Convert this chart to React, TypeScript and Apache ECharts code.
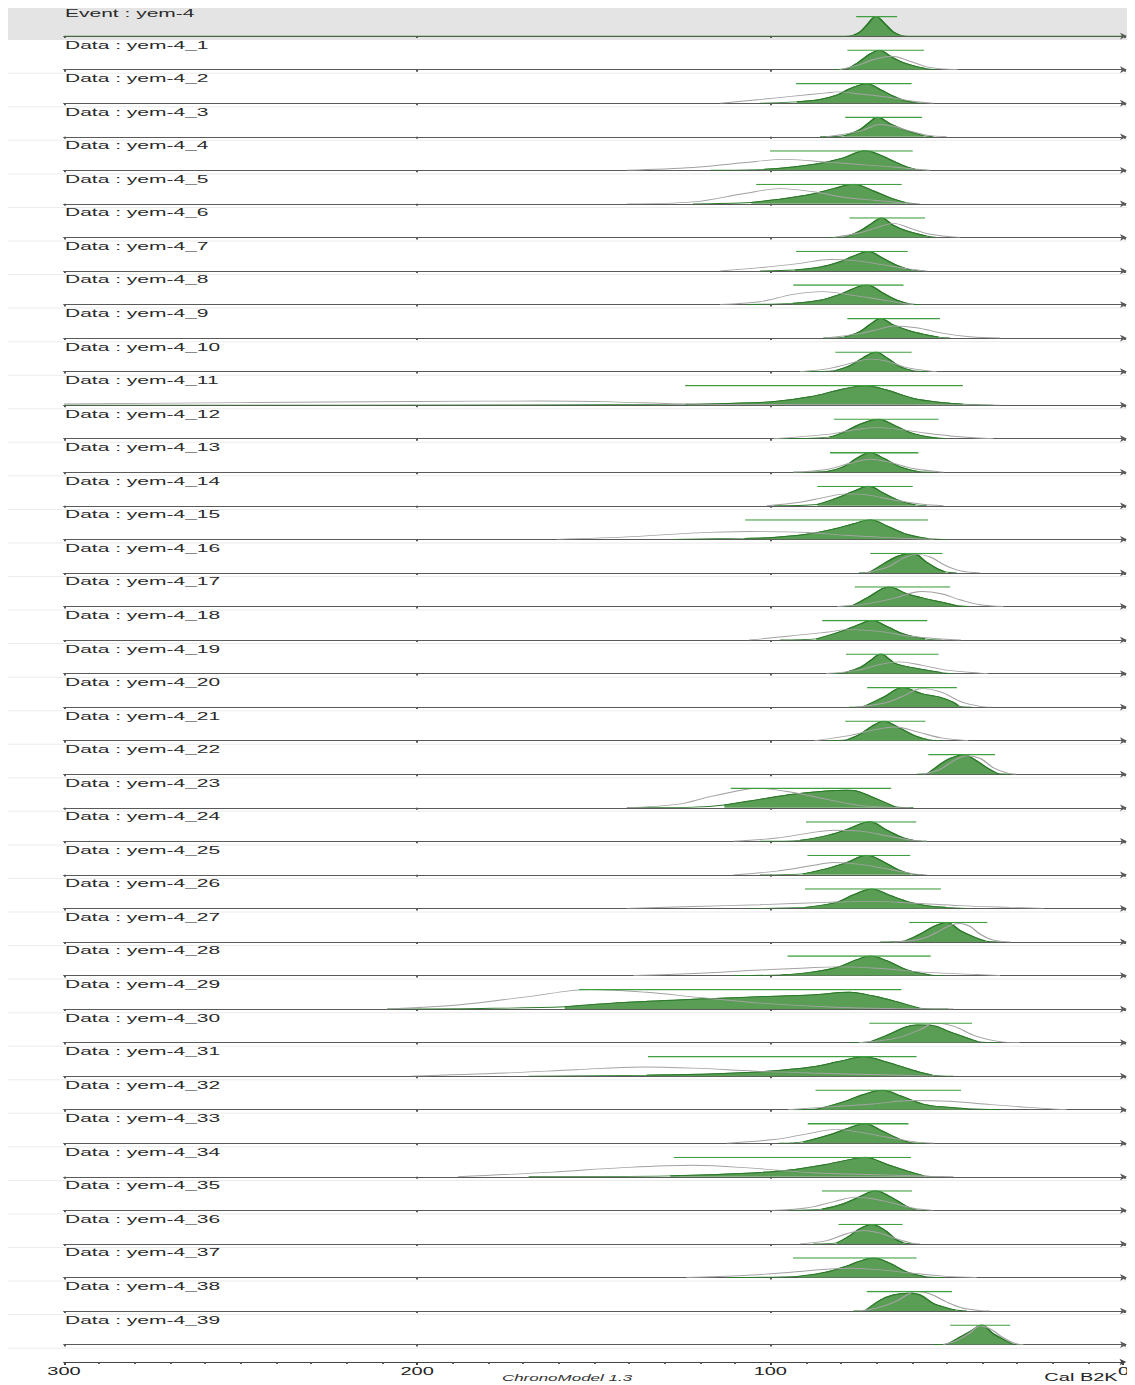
import React, { useEffect, useRef } from "react";
import * as echarts from "echarts";

// Calendar scale (years B2K), drawn from old (left) to young (right)
const yearOldest = 300;
const yearYoungest = 0;
const yearStep = 100;

const rowNames: string[] = [
  "Event : yem-4",
  "Data : yem-4_1", "Data : yem-4_2", "Data : yem-4_3", "Data : yem-4_4", "Data : yem-4_5",
  "Data : yem-4_6", "Data : yem-4_7", "Data : yem-4_8", "Data : yem-4_9", "Data : yem-4_10",
  "Data : yem-4_11", "Data : yem-4_12", "Data : yem-4_13", "Data : yem-4_14", "Data : yem-4_15",
  "Data : yem-4_16", "Data : yem-4_17", "Data : yem-4_18", "Data : yem-4_19", "Data : yem-4_20",
  "Data : yem-4_21", "Data : yem-4_22", "Data : yem-4_23", "Data : yem-4_24", "Data : yem-4_25",
  "Data : yem-4_26", "Data : yem-4_27", "Data : yem-4_28", "Data : yem-4_29", "Data : yem-4_30",
  "Data : yem-4_31", "Data : yem-4_32", "Data : yem-4_33", "Data : yem-4_34", "Data : yem-4_35",
  "Data : yem-4_36", "Data : yem-4_37", "Data : yem-4_38", "Data : yem-4_39",
];

// Posterior densities [year, relative density]
const posteriorCurves: number[][][] = [
  [[300, 0], [79, 0], [76.5, 0.05], [74.7, 0.21], [72.8, 0.56], [70.2, 1], [67.6, 0.61], [65.3, 0.21], [63.4, 0.05], [61, 0], [0, 0]],
  [[82, 0], [78, 0.06], [74.7, 0.43], [71.8, 0.81], [69.2, 1], [66.2, 0.69], [63.4, 0.43], [60, 0.22], [56, 0.05], [53, 0]],
  [[103, 0], [92.6, 0.07], [86, 0.19], [81.3, 0.41], [77.5, 0.75], [72.8, 1], [69, 0.7], [65.3, 0.36], [62.4, 0.15], [59.3, 0.04], [56.8, 0]],
  [[86, 0], [79.2, 0.05], [74.7, 0.37], [71.9, 0.76], [69.8, 1], [66.2, 0.66], [62.4, 0.37], [59.6, 0.2], [56.8, 0.05], [53.9, 0]],
  [[117, 0], [101.9, 0.05], [93.6, 0.17], [85.1, 0.39], [79.4, 0.64], [73.3, 1], [69, 0.78], [65.3, 0.47], [61.5, 0.17], [59.1, 0.05], [55.8, 0]],
  [[122, 0], [105.5, 0.07], [98.3, 0.22], [88.8, 0.48], [82.2, 0.78], [76.6, 1], [70.9, 0.66], [66.2, 0.31], [62, 0.07], [58.7, 0]],
  [[84, 0], [78.3, 0.05], [74.7, 0.33], [71.4, 0.71], [68.6, 1], [65.3, 0.62], [61.5, 0.33], [56, 0.07], [53, 0]],
  [[103, 0], [93.1, 0.05], [86, 0.2], [80.4, 0.47], [76.6, 0.76], [72.3, 1], [68.6, 0.68], [64.3, 0.29], [60.1, 0.04], [56.8, 0]],
  [[106.8, 0], [93.8, 0.06], [86, 0.22], [80.4, 0.52], [72.8, 1], [68.1, 0.57], [64.3, 0.22], [61, 0.04], [57.7, 0]],
  [[85.1, 0], [79.2, 0.05], [74.7, 0.33], [71.4, 0.76], [68.9, 1], [65.3, 0.67], [60.5, 0.36], [55.8, 0.16], [52.5, 0.05], [49.2, 0]],
  [[91.7, 0], [81.8, 0.05], [77.5, 0.31], [73.8, 0.71], [70.2, 1], [67.2, 0.71], [63.4, 0.25], [60.1, 0.06], [55.8, 0]],
  [[300, 0], [170, 0.01], [124.2, 0.04], [112.4, 0.09], [99.6, 0.17], [88.8, 0.43], [79.4, 0.83], [73.3, 1], [67.2, 0.78], [59.6, 0.34], [51.1, 0.12], [45.6, 0.05], [37, 0]],
  [[99.2, 0], [83.4, 0.08], [79.4, 0.33], [74.7, 0.74], [69.5, 1], [65.3, 0.71], [60.5, 0.31], [55.8, 0.1], [52.8, 0.04], [50.2, 0]],
  [[93.6, 0], [84, 0.04], [79.4, 0.28], [75.6, 0.72], [71.9, 1], [68.1, 0.72], [63.4, 0.28], [58.7, 0.05], [53.9, 0]],
  [[99.2, 0], [86.8, 0.07], [81.3, 0.39], [76.6, 0.74], [72.3, 1], [68.1, 0.65], [63.4, 0.25], [59.1, 0.05], [55.8, 0]],
  [[127.9, 0], [107.4, 0.05], [99.6, 0.09], [89.8, 0.26], [82.1, 0.53], [76.7, 0.79], [71.8, 1], [66.9, 0.67], [61.5, 0.26], [55.5, 0.04], [49.5, 0]],
  [[75.1, 0], [71.8, 0.05], [68, 0.47], [63.6, 0.88], [59.8, 1], [56, 0.56], [52.8, 0.21], [50.6, 0.05], [47.3, 0]],
  [[80, 0], [76.7, 0.05], [72.4, 0.47], [66.4, 1], [61.5, 0.65], [56, 0.39], [50.6, 0.18], [47.6, 0.05], [44.1, 0]],
  [[97.4, 0], [87.1, 0.06], [80, 0.44], [75.6, 0.75], [71.3, 1], [66.9, 0.67], [62.6, 0.32], [56.3, 0.06], [51.7, 0]],
  [[82.1, 0], [78.9, 0.05], [74.5, 0.33], [71.5, 0.7], [68.8, 1], [66.3, 0.72], [64.7, 0.51], [59.3, 0.28], [51.7, 0.05], [48.4, 0]],
  [[77.8, 0], [73.4, 0.05], [68, 0.51], [62.6, 1], [57.1, 0.68], [52.2, 0.51], [48.4, 0.25], [46.8, 0.05], [43, 0]],
  [[84.3, 0], [78.3, 0.05], [74.5, 0.35], [71.3, 0.74], [68, 1], [63.6, 0.65], [59.3, 0.26], [55.5, 0.05], [51.7, 0]],
  [[58.7, 0], [55.4, 0.05], [52, 0.51], [49.2, 0.81], [45.4, 1], [41.7, 0.68], [38.8, 0.33], [36, 0.05], [32.2, 0]],
  [[140.7, 0], [121.9, 0.03], [113.1, 0.14], [103, 0.43], [93.6, 0.69], [84.1, 0.86], [78.5, 0.9], [76.6, 0.89], [70.9, 0.52], [64.8, 0.05], [59.6, 0]],
  [[103, 0], [91.7, 0.05], [84.1, 0.29], [78.5, 0.6], [71.9, 1], [67.2, 0.57], [62.4, 0.17], [59.6, 0.05], [55.8, 0]],
  [[103, 0], [90.9, 0.05], [84.1, 0.32], [78.5, 0.63], [72.8, 1], [68.1, 0.67], [63.8, 0.25], [60.5, 0.05], [56.8, 0]],
  [[106.8, 0], [90.3, 0.05], [81.3, 0.31], [76.6, 0.69], [71.4, 1], [66.2, 0.66], [60.5, 0.31], [55.8, 0.14], [50.2, 0.05], [44.5, 0]],
  [[69, 0], [62, 0.05], [57.7, 0.4], [53.9, 0.79], [50.2, 1], [46.4, 0.58], [42.6, 0.26], [39.3, 0.05], [35.1, 0]],
  [[110.5, 0], [96.9, 0.03], [88.8, 0.16], [81.3, 0.41], [75.6, 0.81], [71.9, 1], [67.2, 0.76], [61.5, 0.29], [54.9, 0.03], [51.1, 0]],
  [[208.5, 0], [181.8, 0.03], [158.3, 0.12], [141.8, 0.33], [121.8, 0.5], [101.7, 0.64], [88.4, 0.72], [77.7, 0.86], [71, 0.67], [64.4, 0.38], [57.9, 0.05], [49.7, 0]],
  [[77.7, 0], [71.7, 0.05], [65.7, 0.49], [61.7, 0.81], [58.4, 0.9], [54.4, 0.88], [49.7, 0.58], [44.3, 0.23], [41.3, 0.05], [35, 0]],
  [[168.5, 0], [135.1, 0.05], [115.1, 0.12], [101.7, 0.24], [88.4, 0.47], [80.4, 0.76], [73.7, 1], [67, 0.71], [60.3, 0.33], [54.3, 0.05], [48.3, 0]],
  [[93.7, 0], [86.4, 0.05], [79, 0.43], [73.7, 0.78], [68.4, 1], [63, 0.69], [56.3, 0.26], [49.7, 0.12], [44.3, 0.05], [35, 0]],
  [[97.7, 0], [90.8, 0.07], [83, 0.45], [77.7, 0.79], [73.4, 1], [68.4, 0.62], [64.4, 0.28], [61, 0.05], [56.4, 0]],
  [[168.5, 0], [128.4, 0.05], [108.4, 0.17], [95.1, 0.34], [84.4, 0.63], [77.7, 0.88], [73.4, 1], [67, 0.63], [60.3, 0.24], [56.6, 0.05], [51, 0]],
  [[95, 0], [85.5, 0.06], [80, 0.3], [75, 0.68], [70.4, 1], [66, 0.68], [62, 0.25], [59.5, 0.05], [55, 0]],
  [[87.9, 0], [81.3, 0.05], [77.5, 0.43], [74.7, 0.78], [71.4, 1], [67.6, 0.69], [64.8, 0.26], [62.4, 0.05], [59.6, 0]],
  [[112.4, 0], [92.4, 0.05], [84.1, 0.28], [78.5, 0.58], [74.7, 0.84], [70.9, 1], [66.2, 0.72], [61.5, 0.28], [56.6, 0.05], [51.1, 0]],
  [[76.6, 0], [73, 0.05], [69, 0.55], [65.3, 0.82], [61, 0.91], [57.7, 0.82], [53.9, 0.38], [50.2, 0.16], [47.8, 0.05], [44.5, 0]],
  [[53.9, 0], [49.7, 0.05], [46.4, 0.38], [43.1, 0.72], [40.3, 1], [37, 0.55], [34.1, 0.26], [31.8, 0.05], [28.5, 0]],
];

// Calibrated date densities [year, relative density] (none for the event)
const likelihoodCurves: number[][][] = [
  [],
  [[80.5, 0], [74.7, 0.26], [70.9, 0.52], [65.7, 0.69], [60.5, 0.43], [55.8, 0.14], [51, 0.03], [47, 0]],
  [[114.3, 0], [103, 0.19], [93.6, 0.36], [84.1, 0.53], [81.3, 0.58], [74.7, 0.47], [65.3, 0.27], [59.6, 0.1], [53.9, 0]],
  [[84.1, 0], [74.7, 0.29], [69, 0.63], [65.3, 0.54], [60.5, 0.29], [55.8, 0.08], [50.2, 0]],
  [[140.7, 0], [121.9, 0.14], [107.7, 0.39], [95.5, 0.56], [84.1, 0.42], [74.7, 0.3], [65.3, 0.17], [59.6, 0.07], [54.9, 0]],
  [[140.7, 0], [121.9, 0.1], [107.7, 0.52], [97.3, 0.78], [87.9, 0.62], [79.4, 0.34], [70, 0.17], [62.4, 0.05], [57.7, 0]],
  [[82.2, 0], [74.7, 0.24], [70, 0.5], [65.3, 0.72], [59.6, 0.41], [54.9, 0.16], [46.4, 0]],
  [[114.3, 0], [103, 0.17], [91.7, 0.39], [83.2, 0.59], [76.6, 0.54], [69, 0.34], [61.5, 0.12], [55.8, 0]],
  [[114.3, 0], [103, 0.14], [93.6, 0.52], [85.1, 0.66], [78.5, 0.52], [70, 0.28], [62.4, 0.05], [59.6, 0]],
  [[84.1, 0], [74.7, 0.24], [69, 0.47], [65.3, 0.62], [58.7, 0.53], [51.1, 0.24], [43.6, 0.07], [35.1, 0]],
  [[91.7, 0], [84.1, 0.14], [77.5, 0.42], [71.9, 0.64], [67.2, 0.54], [61.5, 0.2], [55.8, 0.05], [53, 0]],
  [[300, 0.06], [250, 0.13], [200, 0.19], [165, 0.21], [145, 0.17], [128, 0.07], [110, 0.03], [90, 0.03], [72, 0.04], [55, 0.02], [35, 0]],
  [[99.2, 0], [84.1, 0.22], [74.7, 0.5], [69, 0.57], [62.4, 0.45], [55.8, 0.28], [46.4, 0.1], [37, 0]],
  [[93.6, 0], [84.1, 0.14], [77.5, 0.46], [71.9, 0.67], [66.2, 0.51], [59.6, 0.19], [51.1, 0]],
  [[101.1, 0], [91.7, 0.18], [84.1, 0.46], [78.5, 0.61], [72.8, 0.56], [65.3, 0.3], [57.7, 0.09], [51.1, 0]],
  [[160.5, 0], [138.8, 0.14], [122.4, 0.32], [106.1, 0.4], [89.8, 0.35], [78.9, 0.21], [68, 0.1], [59.3, 0.03], [53.8, 0]],
  [[73.4, 0], [66.9, 0.3], [62.6, 0.74], [58.7, 0.95], [54.9, 0.82], [50.6, 0.39], [46.2, 0.1], [40.8, 0]],
  [[81.1, 0], [73.4, 0.12], [65.8, 0.39], [57.1, 0.77], [51.7, 0.65], [46.2, 0.33], [40.8, 0.09], [34.2, 0]],
  [[106.1, 0], [95.2, 0.19], [84.3, 0.4], [77.8, 0.53], [69.1, 0.44], [60.4, 0.19], [51.7, 0.05], [46.2, 0]],
  [[84.3, 0], [75.6, 0.16], [69.1, 0.46], [63.6, 0.6], [57.1, 0.42], [49.5, 0.16], [40.8, 0.02], [38.6, 0]],
  [[75.6, 0], [66.9, 0.25], [62.6, 0.56], [57.1, 0.95], [51.7, 0.77], [46.2, 0.28], [40.8, 0.04], [37.5, 0]],
  [[87.6, 0], [77.8, 0.26], [71.3, 0.53], [64.7, 0.7], [58.2, 0.44], [51.7, 0.14], [44.1, 0]],
  [[56.8, 0], [52, 0.25], [48.3, 0.68], [44.5, 0.95], [40.7, 0.81], [37, 0.33], [33.2, 0.07], [30.4, 0]],
  [[140.7, 0], [126.6, 0.17], [117.1, 0.57], [106.8, 0.95], [103.9, 1], [93.6, 0.78], [84.1, 0.43], [74.7, 0.12], [67.2, 0.03], [60.5, 0]],
  [[110.5, 0], [98.3, 0.17], [88.8, 0.43], [82.2, 0.57], [74.7, 0.52], [65.3, 0.22], [59.6, 0.05], [55.8, 0]],
  [[110.5, 0], [98.3, 0.19], [87.9, 0.49], [82.2, 0.63], [74.7, 0.54], [65.3, 0.25], [59.6, 0.05], [55.8, 0]],
  [[140.7, 0], [121.9, 0.1], [103, 0.19], [84.1, 0.31], [72.8, 0.36], [60.5, 0.28], [46.4, 0.14], [32.2, 0.05], [22.8, 0]],
  [[65.3, 0], [57.7, 0.14], [53, 0.49], [49.2, 0.85], [46.4, 0.95], [43.6, 0.8], [40.7, 0.4], [37, 0.09], [32.2, 0]],
  [[138.8, 0], [121.9, 0.1], [103, 0.28], [88.8, 0.4], [81.3, 0.44], [70, 0.37], [55.8, 0.16], [41.7, 0.05], [35.1, 0]],
  [[208.5, 0], [188.5, 0.21], [168.5, 0.64], [151.1, 1], [135.1, 0.86], [120.4, 0.6], [101.7, 0.29], [81.7, 0.09], [61.7, 0.02], [48.3, 0]],
  [[75, 0], [64.4, 0.23], [57.7, 0.67], [53.4, 1], [48.3, 0.84], [41.7, 0.32], [35, 0.05], [29.6, 0]],
  [[201.9, 0], [175.2, 0.16], [155.1, 0.33], [136.5, 0.47], [121.8, 0.41], [104.4, 0.26], [88.4, 0.16], [68.4, 0.07], [53.7, 0]],
  [[95.1, 0], [81.7, 0.17], [71, 0.29], [60.3, 0.47], [49.7, 0.43], [37.7, 0.26], [27, 0.12], [16.3, 0]],
  [[112.4, 0], [99.1, 0.19], [89.7, 0.48], [81.7, 0.71], [75, 0.57], [67, 0.31], [59, 0.07], [53.7, 0]],
  [[188.5, 0], [161.8, 0.24], [141.8, 0.47], [121.8, 0.59], [104.4, 0.43], [88.4, 0.21], [68.4, 0.1], [55, 0.03], [48.3, 0]],
  [[100, 0], [90, 0.12], [82, 0.45], [76, 0.68], [72, 0.62], [66, 0.4], [60, 0.12], [54, 0]],
  [[91.7, 0], [84.1, 0.17], [78.5, 0.52], [73.7, 0.69], [69, 0.55], [64.3, 0.26], [59.6, 0.03], [57.7, 0]],
  [[123.8, 0], [107.7, 0.1], [93.6, 0.28], [84.1, 0.42], [77.5, 0.47], [70, 0.4], [60.5, 0.23], [51.1, 0.07], [41.7, 0]],
  [[74.7, 0], [69, 0.2], [64.3, 0.52], [58.7, 1], [54.9, 0.88], [50.2, 0.46], [45.5, 0.14], [40.7, 0.02], [37.9, 0]],
  [[51.1, 0], [47.3, 0.21], [43.6, 0.6], [40.7, 0.95], [37.9, 0.81], [34.1, 0.34], [30.4, 0.03], [28.5, 0]],
];

// HPD region (filled part of the posterior) [old, young]
const hpdRanges: number[][] = [
  [76.5, 63.4], [78, 56], [92.6, 59.3], [79.2, 56.8], [101.9, 59.1], [105.5, 62], [78.3, 56], [93.1, 60.1],
  [93.8, 61], [79.2, 52.5], [81.8, 60.1], [124.2, 45.6], [83.4, 52.8], [84, 58.7], [86.8, 59.1], [107.4, 55.5],
  [71.8, 50.6], [76.7, 47.6], [87.1, 56.3], [78.9, 51.7], [73.4, 46.8], [78.3, 55.5], [55.4, 36], [113.1, 64.8],
  [91.7, 59.6], [90.9, 60.5], [90.3, 50.2], [62, 39.3], [96.9, 54.9], [158.3, 57.9], [71.7, 41.3], [135.1, 54.3],
  [86.4, 44.3], [90.8, 61], [128.4, 56.6], [85.5, 59.5], [81.3, 62.4], [92.4, 56.6], [73, 47.8], [49.7, 31.8],
];

// Credible interval bar drawn above each density [old, young]
const credibleIntervals: number[][] = [
  [75.8, 64.2], [78.3, 56.6], [92.8, 60.1], [78.9, 57.2], [100.2, 59.8], [104.1, 62.9], [77.7, 56.3], [92.8, 61.2],
  [93.6, 62.4], [78.3, 52.1], [81.7, 60.1], [124.2, 45.6], [82.1, 52.5], [83.2, 58.2], [86.8, 59.8], [107.2, 55.5],
  [71.8, 51.4], [76.2, 49.2], [85.4, 55.7], [78.7, 52.5], [72.7, 47.3], [78.9, 56.2], [55.4, 36.5], [111.3, 65.9],
  [90, 58.8], [89.6, 60.5], [90.3, 51.8], [60.8, 38.7], [95.2, 54.7], [154.2, 63], [72.1, 43], [134.7, 58.7],
  [87.3, 46.1], [89.5, 61], [127.4, 60.3], [85.5, 60], [80.8, 62.7], [93.7, 58.7], [72.8, 48.7], [49.2, 32.2],
];

// Layout (chart units; the drawing is stretched 2x horizontally on the page)
const STRETCH_X = 2;
const CHART_W = 563.5;
const CHART_H = 1377;
const PLOT_LEFT = 28;
const PLOT_RIGHT = 5.5;
const FIRST_AXIS_Y = 28.1;
const ROW_PITCH = 33.55;
const PEAK_H = 19.5;
const BOTTOM_AXIS_Y = 1354;

const FONT = "'Liberation Sans', Arial, Helvetica, sans-serif";
const GREEN_FILL = "#5a9d55";
const GREEN_LINE = "#2c7a2a";
const GREEN_BAR = "#3f9e3f";
const GREY_LINE = "#a3a3a3";
const AXIS_COLOR = "#5a5a5a";

const toXY = (p: number[]) => [-p[0], p[1]];

function buildOption() {
  const grids: any[] = [];
  const xAxes: any[] = [];
  const yAxes: any[] = [];
  const series: any[] = [];
  const graphics: any[] = [];

  // Event band background
  graphics.push({
    type: "rect",
    z: -10,
    shape: { x: 0, y: 0, width: CHART_W - 4, height: FIRST_AXIS_Y + 3.9 },
    style: { fill: "#e4e4e4" },
  });

  rowNames.forEach((name, i) => {
    const axisY = FIRST_AXIS_Y + ROW_PITCH * i;
    grids.push({ left: PLOT_LEFT, right: PLOT_RIGHT, top: axisY - PEAK_H, height: PEAK_H });
    xAxes.push({
      gridIndex: i,
      type: "value",
      min: -yearOldest,
      max: -yearYoungest,
      interval: yearStep,
      axisLine: {
        show: true,
        onZero: false,
        symbol: ["none", "arrow"],
        symbolSize: [5, 3.5],
        symbolOffset: [0, 1.5],
        lineStyle: { color: AXIS_COLOR, width: 1 },
      },
      axisTick: { show: true, length: 2, lineStyle: { color: AXIS_COLOR } },
      axisLabel: { show: false },
      splitLine: { show: false },
    });
    yAxes.push({ gridIndex: i, type: "value", min: 0, max: 1, show: false });

    const post = posteriorCurves[i];
    const [hpdOld, hpdYoung] = hpdRanges[i];
    const inHpd = post.filter((p) => p[0] <= hpdOld + 1e-6 && p[0] >= hpdYoung - 1e-6);

    // Posterior tails (full curve as a thin line)
    series.push({
      type: "line",
      xAxisIndex: i,
      yAxisIndex: i,
      data: post.map(toXY),
      smooth: 0.35,
      symbol: "none",
      silent: true,
      z: 3,
      lineStyle: { color: GREEN_LINE, width: 0.9 },
    });
    // Posterior HPD area
    series.push({
      type: "line",
      xAxisIndex: i,
      yAxisIndex: i,
      data: inHpd.map(toXY),
      smooth: 0.35,
      symbol: "none",
      silent: true,
      z: 4,
      lineStyle: { color: GREEN_LINE, width: 1 },
      areaStyle: { color: GREEN_FILL, opacity: 1 },
    });
    // Calibrated date
    if (likelihoodCurves[i].length) {
      series.push({
        type: "line",
        xAxisIndex: i,
        yAxisIndex: i,
        data: likelihoodCurves[i].map(toXY),
        smooth: 0.35,
        symbol: "none",
        silent: true,
        z: 5,
        lineStyle: { color: GREY_LINE, width: 0.9 },
      });
    }
    // Credible interval bar
    const [ciOld, ciYoung] = credibleIntervals[i];
    series.push({
      type: "line",
      xAxisIndex: i,
      yAxisIndex: i,
      data: [[-ciOld, 1], [-ciYoung, 1]],
      symbol: "none",
      silent: true,
      z: 6,
      lineStyle: { color: GREEN_BAR, width: 1.3 },
    });

    // Row separator
    if (i > 0) {
      graphics.push({
        type: "line",
        z: -5,
        shape: { x1: 0, y1: axisY + 3.6, x2: CHART_W - 4, y2: axisY + 3.6 },
        style: { stroke: "#ececec", lineWidth: 1 },
      });
    }
    // Row title
    graphics.push({
      type: "text",
      z: 20,
      x: PLOT_LEFT + 0.5,
      y: axisY - (i === 0 ? 23 : 24.5),
      style: {
        text: name,
        fontSize: 10.5,
        fontFamily: FONT,
        fill: "#2a2a2a",
        verticalAlign: "middle",
        align: "left",
      },
    });
  });

  // Shared calendar axis at the bottom
  const bi = rowNames.length;
  grids.push({ left: PLOT_LEFT, right: PLOT_RIGHT, top: BOTTOM_AXIS_Y - 1, height: 1 });
  xAxes.push({
    gridIndex: bi,
    type: "value",
    min: -yearOldest,
    max: -yearYoungest,
    interval: yearStep,
    axisLine: {
      show: true,
      onZero: false,
      symbol: ["none", "arrow"],
      symbolSize: [5, 3.5],
      symbolOffset: [0, 1.5],
      lineStyle: { color: "#444", width: 1 },
    },
    axisTick: { show: true, length: 3, lineStyle: { color: "#444" } },
    minorTick: { show: true, splitNumber: 10, length: 2, lineStyle: { color: "#555" } },
    axisLabel: {
      show: true,
      margin: 5,
      fontSize: 10,
      fontFamily: FONT,
      color: "#222",
      formatter: (v: number) => String(Math.abs(v)),
    },
    splitLine: { show: false },
  });
  yAxes.push({ gridIndex: bi, type: "value", min: 0, max: 1, show: false });

  graphics.push({
    type: "text",
    z: 20,
    x: 279.5,
    y: 1370,
    style: {
      text: "ChronoModel 1.3",
      fontSize: 8.5,
      fontStyle: "italic",
      fontFamily: FONT,
      fill: "#333",
      align: "center",
      verticalAlign: "middle",
    },
  });
  graphics.push({
    type: "text",
    z: 20,
    x: 536.5,
    y: 1369.5,
    style: {
      text: "Cal B2K",
      fontSize: 10,
      fontFamily: FONT,
      fill: "#222",
      align: "center",
      verticalAlign: "middle",
    },
  });

  return {
    animation: false,
    backgroundColor: "transparent",
    grid: grids,
    xAxis: xAxes,
    yAxis: yAxes,
    series,
    graphic: { elements: graphics },
  };
}

export default function App() {
  const ref = useRef<HTMLDivElement>(null);

  useEffect(() => {
    const prevOverflow = document.documentElement.style.overflow;
    document.documentElement.style.overflow = "hidden";
    if (!ref.current) return;
    const chart = echarts.init(ref.current, undefined, {
      renderer: "svg",
      width: CHART_W,
      height: CHART_H,
    });
    chart.setOption(buildOption() as any);
    return () => {
      chart.dispose();
      document.documentElement.style.overflow = prevOverflow;
    };
  }, []);

  return (
    <div style={{ width: CHART_W * STRETCH_X, height: CHART_H, overflow: "hidden" }}>
      <div
        ref={ref}
        style={{
          width: CHART_W,
          height: CHART_H,
          transform: `scaleX(${STRETCH_X})`,
          transformOrigin: "0 0",
        }}
      />
    </div>
  );
}
